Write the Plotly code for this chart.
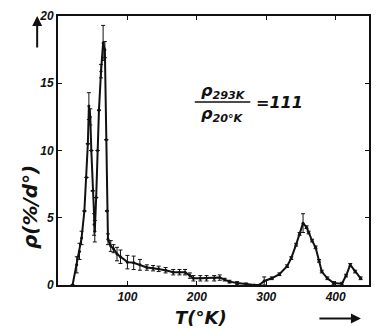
import plotly.graph_objects as go

# Temperature (K) and resistivity derivative values
T = [21, 27, 31, 34, 38, 41, 43, 44.5, 46.5, 48, 50, 52, 53, 55, 57, 59, 62, 65,
     67.5, 69.5, 70.5, 72, 76, 80, 85, 90, 100, 109, 118, 128, 137, 145, 155,
     166, 175, 183, 190, 195, 205, 214, 225, 233, 240, 247, 258, 271, 283, 290,
     297, 308, 319, 330, 336, 343, 348, 353, 358, 361, 366, 371, 376, 380, 388,
     397, 409, 415, 421, 428, 436]
rho = [0.0, 1.5, 2.5, 3.5, 5.5, 8.0, 10.5, 13.3, 12.5, 10.0, 7.0, 4.5, 4.0, 6.5,
       10.0, 13.0, 15.9, 18.0, 17.5, 10.8, 5.5, 3.4, 2.9, 2.7, 2.3, 2.1, 1.7,
       1.65, 1.5, 1.3, 1.25, 1.2, 1.1, 0.95, 0.95, 0.95, 0.7, 0.5, 0.5, 0.5,
       0.5, 0.55, 0.4, 0.25, 0.15, 0.05, 0.0, 0.0, 0.3, 0.5, 0.8, 1.4, 2.0, 3.0,
       3.8, 4.6, 4.3, 3.9, 3.3, 2.8, 1.8, 1.0, 0.5, 0.15, 0.1, 0.7, 1.5, 1.0, 0.5]
err = [0, 0.6, 0.6, 0.5, 0, 0, 0, 1.0, 0.6, 0, 0, 0.8, 0.8, 0, 0, 0, 0.5, 1.3,
       0.6, 0, 0, 0.4, 0.4, 0.3, 0.5, 0.5, 0.5, 0.5, 0.4, 0.2, 0.2, 0.2, 0.2,
       0.2, 0.2, 0.2, 0.2, 0.2, 0.2, 0.2, 0.2, 0.2, 0.1, 0.1, 0.1, 0.1, 0, 0,
       0.3, 0.1, 0.1, 0.1, 0.1, 0.1, 0.1, 0.7, 0.1, 0.1, 0.1, 0.1, 0.1, 0.1,
       0.1, 0.1, 0.1, 0.1, 0.1, 0.1, 0.1]

x_ticks = [100, 200, 300, 400]
y_ticks = [0, 5, 10, 15, 20]

INK = "#111111"
tickfont = dict(family="Liberation Sans", size=12, color=INK, weight="bold", style="italic")

fig = go.Figure()
fig.add_trace(go.Scatter(
    x=T, y=rho, mode="lines+markers",
    line=dict(color=INK, width=2),
    marker=dict(color=INK, size=3),
    error_y=dict(type="data", array=err, visible=True, color=INK, thickness=1, width=2),
    showlegend=False,
))

fig.update_layout(
    width=380, height=329,
    margin=dict(l=58, r=9, t=12, b=44),
    paper_bgcolor="white", plot_bgcolor="white",
    xaxis=dict(range=[0, 448], tickvals=x_ticks, ticks="inside", ticklen=4,
               showgrid=False, zeroline=False, showline=True, linecolor=INK,
               linewidth=2, mirror="ticks", tickcolor=INK, tickfont=tickfont),
    yaxis=dict(range=[0, 20], tickvals=y_ticks, ticks="inside", ticklen=4,
               showgrid=False, zeroline=False, showline=True, linecolor=INK,
               linewidth=2, mirror="ticks", tickcolor=INK, tickfont=tickfont),
)

hand = dict(family="DejaVu Sans", color=INK, style="italic", weight="bold")

# ratio annotation
fig.add_annotation(x=239, y=14.4, xref="x", yref="y", showarrow=False,
                   xanchor="center", yanchor="middle",
                   text="ρ<sub>293K</sub>", font=dict(hand, size=16))
fig.add_shape(type="line", x0=197, x1=277, y0=13.6, y1=13.6, xref="x", yref="y",
              line=dict(color=INK, width=1.5))
fig.add_annotation(x=237, y=12.7, xref="x", yref="y", showarrow=False,
                   xanchor="center", yanchor="middle",
                   text="ρ<sub>20°K</sub>", font=dict(hand, size=16))
fig.add_annotation(x=282, y=13.6, xref="x", yref="y", showarrow=False,
                   xanchor="left", yanchor="middle",
                   text="=111", font=dict(hand, size=16))

# axis titles
fig.add_annotation(x=-0.09, y=0.29, xref="paper", yref="paper", showarrow=False,
                   xanchor="center", yanchor="middle",
                   text="ρ(%/d°)", textangle=-90, font=dict(hand, size=20))
fig.add_annotation(x=0.46, y=-0.121, xref="paper", yref="paper", showarrow=False,
                   xanchor="center", yanchor="middle",
                   text="T(°K)", font=dict(hand, size=18))

# arrows
fig.add_annotation(x=-0.067, y=1.0, xref="paper", yref="paper", text="",
                   showarrow=True, ax=0, ay=33, arrowhead=2, arrowsize=1,
                   arrowwidth=2, arrowcolor=INK)
fig.add_annotation(x=0.974, y=-0.1245, xref="paper", yref="paper", text="",
                   showarrow=True, ax=-43, ay=0, arrowhead=2, arrowsize=1,
                   arrowwidth=2, arrowcolor=INK)

fig.write_html("out.html")
